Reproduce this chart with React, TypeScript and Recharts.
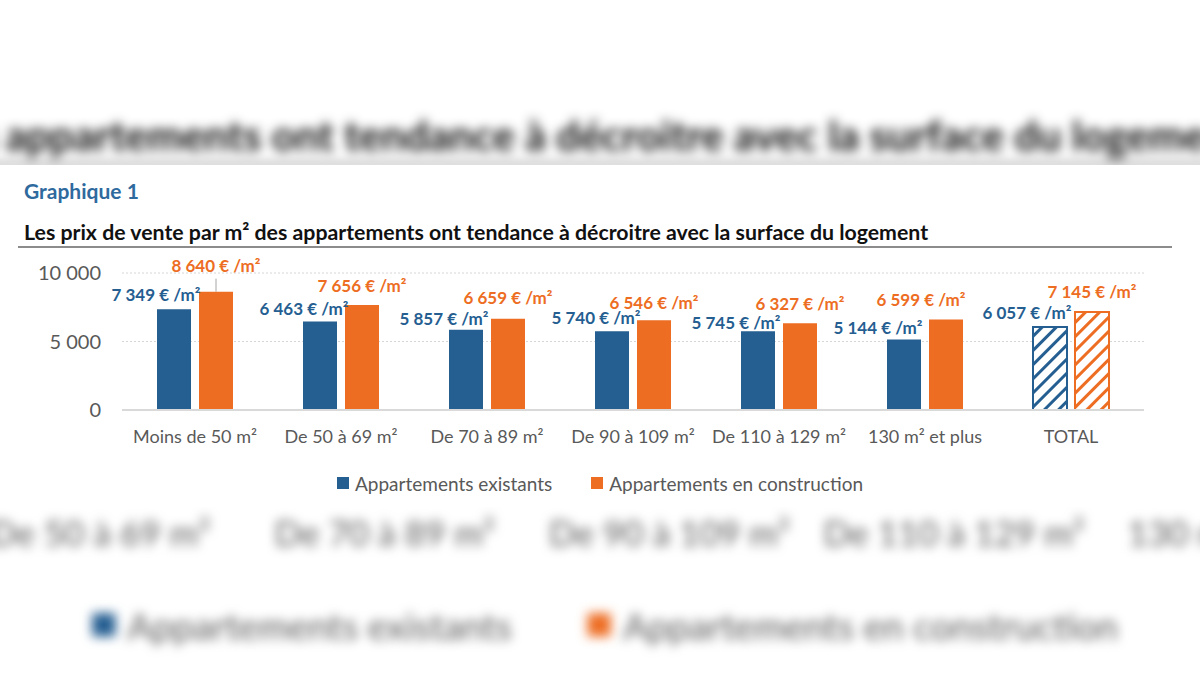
import React from 'react';
import { BarChart, Bar, XAxis, YAxis, CartesianGrid, Legend, LabelList, Cell } from 'recharts';

const categories = ['Moins de 50 m²', 'De 50 à 69 m²', 'De 70 à 89 m²', 'De 90 à 109 m²', 'De 110 à 129 m²', '130 m² et plus', 'TOTAL'];
const existants = [7349, 6463, 5857, 5740, 5745, 5144, 6057];
const construction = [8640, 7656, 6659, 6546, 6327, 6599, 7145];
const yTicks = [0, 5000, 10000];
const seriesNames = ['Appartements existants', 'Appartements en construction'];
const heading = 'Graphique 1';
const title = 'Les prix de vente par m² des appartements ont tendance à décroitre avec la surface du logement';

// label placement nudges (layout only): [dx, dy] from bar top centre
const blueNudge = [[-18, -15], [-16, -13], [-22, -11], [-16, -14], [-22, -9], [-26, -12], [-23, -15]];
const orangeNudge = [[0, -26], [0, -20], [0, -21], [0, -18], [0, -20], [-25, -20], [0, -21]];

const BLUE = '#255E91';
const ORANGE = '#ED6D23';
const GREY = '#595959';
const FONT = 'Lato, "Open Sans", sans-serif';

const data = categories.map((c, i) => ({ name: c, existants: existants[i], construction: construction[i] }));

const fmt = (v: number) => String(v).replace(/\B(?=(\d{3})+(?!\d))/g, ' ') + ' € /m²';

const makeLabel = (color: string, nudges: number[][], leader: number) => (props: any) => {
  const { x, y, width, value, index } = props;
  const cx = x + width / 2;
  const [dx, dy] = nudges[index] || [0, -15];
  return (
    <g>
      {index === leader && (
        <line x1={cx} x2={cx} y1={y - 13} y2={y} stroke="#A6A6A6" strokeWidth={1} />
      )}
      <text x={cx + dx} y={y + dy} textAnchor="middle" dominantBaseline="central" fill={color}
        style={{ fontFamily: FONT, fontSize: 17, fontWeight: 700 }}>
        {fmt(value)}
      </text>
    </g>
  );
};

const LegendContent = () => (
  <div style={{ display: 'flex', justifyContent: 'center', alignItems: 'center', fontFamily: FONT, fontSize: 19, color: GREY, height: 24 }}>
    {seriesNames.map((n, i) => (
      <div key={n} style={{ display: 'flex', alignItems: 'center', marginRight: i === 0 ? 39 : 0 }}>
        <span style={{ display: 'inline-block', width: 12, height: 12, background: i === 0 ? BLUE : ORANGE, marginRight: 6 }} />
        <span>{n}</span>
      </div>
    ))}
  </div>
);

const ChartContent = ({ pid }: { pid: string }) => (
  <div style={{ position: 'absolute', left: 0, top: 0, width: 1200, height: 680 }}>
    <div style={{ position: 'absolute', left: 24, top: 177, fontFamily: FONT, fontWeight: 700, fontSize: 21, color: '#2F6A9E', lineHeight: '28px' }}>
      {heading}
    </div>
    <div style={{ position: 'absolute', left: 24, top: 218, fontFamily: FONT, fontWeight: 700, fontSize: 21.3, color: '#111', lineHeight: '28px', whiteSpace: 'nowrap' }}>
      {title}
    </div>
    <div style={{ position: 'absolute', left: 18, top: 246, width: 1154, height: 2, background: '#8C8C8C' }} />
    <div style={{ position: 'absolute', left: 0, top: 250 }}>
      <BarChart width={1200} height={260} data={data} margin={{ top: 23, right: 56, left: 0, bottom: 70 }} barGap={8} barSize={34}>
        <defs>
          <pattern id={`hb-${pid}`} width="10" height="10" patternUnits="userSpaceOnUse" patternTransform="rotate(45)">
            <rect width="10" height="10" fill="#fff" />
            <line x1="0" y1="0" x2="0" y2="10" stroke={BLUE} strokeWidth="6" />
          </pattern>
          <pattern id={`ho-${pid}`} width="10" height="10" patternUnits="userSpaceOnUse" patternTransform="rotate(45)">
            <rect width="10" height="10" fill="#fff" />
            <line x1="0" y1="0" x2="0" y2="10" stroke={ORANGE} strokeWidth="6" />
          </pattern>
        </defs>
        <CartesianGrid vertical={false} stroke="#D6D6D6" strokeDasharray="2 2" />
        <XAxis dataKey="name" axisLine={{ stroke: '#D9D9D9', strokeWidth: 2 }} tickLine={false} tickSize={0} tickMargin={20} height={30} interval={0}
          tick={{ fill: GREY, fontSize: 18, fontFamily: FONT }} />
        <YAxis domain={[0, 10000]} ticks={yTicks} width={122} axisLine={false} tickLine={false} tickSize={0} tickMargin={21}
          tickFormatter={(v: number) => String(v).replace(/\B(?=(\d{3})+(?!\d))/g, ' ')}
          tick={{ fill: GREY, fontSize: 20, fontFamily: FONT }} />
        <Legend verticalAlign="middle" align="center" wrapperStyle={{ top: 221, left: 0, width: 1200 }} content={() => <LegendContent />} />
        <Bar dataKey="existants" name={seriesNames[0]} fill={BLUE} isAnimationActive={false}>
          {data.map((d, i) => (
            <Cell key={i} fill={i === data.length - 1 ? `url(#hb-${pid})` : BLUE}
              stroke={i === data.length - 1 ? BLUE : 'none'} strokeWidth={2} />
          ))}
          <LabelList dataKey="existants" content={makeLabel(BLUE, blueNudge, -1)} />
        </Bar>
        <Bar dataKey="construction" name={seriesNames[1]} fill={ORANGE} isAnimationActive={false}>
          {data.map((d, i) => (
            <Cell key={i} fill={i === data.length - 1 ? `url(#ho-${pid})` : ORANGE}
              stroke={i === data.length - 1 ? ORANGE : 'none'} strokeWidth={2} />
          ))}
          <LabelList dataKey="construction" content={makeLabel(ORANGE, orangeNudge, 0)} />
        </Bar>
      </BarChart>
    </div>
  </div>
);

export default function App() {
  return (
    <div style={{ position: 'fixed', left: 0, top: 0, width: 1200, height: 680, overflow: 'hidden', background: '#fff' }}>
      <div aria-hidden="true" style={{ position: 'absolute', left: 0, top: 0, width: 1200, height: 680, transform: 'translate(-565px, -317px) scale(1.95)', transformOrigin: '0 0', filter: 'blur(2.6px)' }}>
        <ChartContent pid="bg" />
      </div>
      <div style={{ position: 'absolute', left: 0, top: 165, width: 1200, height: 342, overflow: 'hidden', background: '#fff' }}>
        <div style={{ position: 'absolute', left: 0, top: -165, width: 1200, height: 680 }}>
          <ChartContent pid="fg" />
        </div>
      </div>
    </div>
  );
}
